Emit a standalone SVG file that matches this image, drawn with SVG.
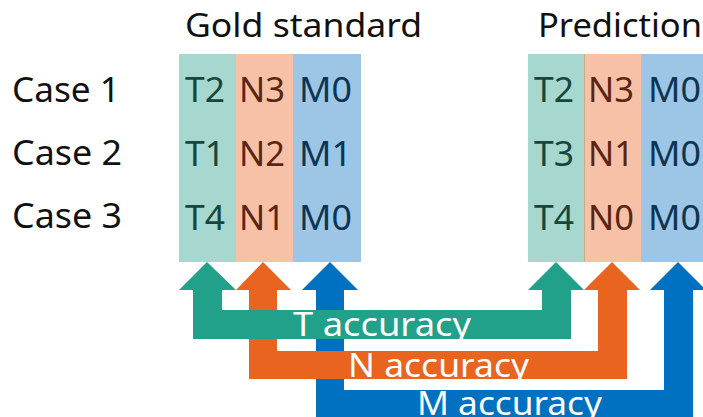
<svg xmlns="http://www.w3.org/2000/svg" width="703" height="417" viewBox="0 0 703 417">
  <style>
    text { font-family: "Noto Sans", "Open Sans", "DejaVu Sans", sans-serif; }
    .head { font-size: 33px; fill: #111; }
    .case { font-size: 34px; fill: #111; }
    .cell { font-size: 35px; }
    .t-col { fill: #A6D8CF; }
    .n-col { fill: #F6C1A6; }
    .m-col { fill: #9DC5E6; }
    .t-txt { fill: #17473A; }
    .n-txt { fill: #5A2612; }
    .m-txt { fill: #0D3552; }
    .acc { font-size: 32px; fill: #fff; }
  </style>

  <!-- column headers -->
  <g id="gold-header"><text class="head" x="185" y="37" textLength="237" lengthAdjust="spacingAndGlyphs">Gold standard</text></g>
  <g id="prediction-header"><text class="head" x="538" y="37" textLength="164" lengthAdjust="spacingAndGlyphs">Prediction</text></g>

  <!-- row labels -->
  <g id="case-labels">
    <text class="case" x="12" y="102" textLength="108" lengthAdjust="spacingAndGlyphs">Case 1</text>
    <text class="case" x="12" y="165" textLength="110" lengthAdjust="spacingAndGlyphs">Case 2</text>
    <text class="case" x="12" y="228" textLength="110" lengthAdjust="spacingAndGlyphs">Case 3</text>
  </g>

  <!-- gold standard table -->
  <g id="gold-T">
    <rect class="t-col" x="179" y="54" width="57" height="208"/>
    <text class="cell t-txt" x="185" y="102" textLength="40" lengthAdjust="spacingAndGlyphs">T2</text>
    <text class="cell t-txt" x="185" y="166" textLength="40" lengthAdjust="spacingAndGlyphs">T1</text>
    <text class="cell t-txt" x="185" y="230" textLength="40" lengthAdjust="spacingAndGlyphs">T4</text>
  </g>
  <g id="gold-N">
    <rect class="n-col" x="236" y="54" width="57" height="208"/>
    <text class="cell n-txt" x="239" y="102" textLength="46" lengthAdjust="spacingAndGlyphs">N3</text>
    <text class="cell n-txt" x="239" y="166" textLength="46" lengthAdjust="spacingAndGlyphs">N2</text>
    <text class="cell n-txt" x="239" y="230" textLength="46" lengthAdjust="spacingAndGlyphs">N1</text>
  </g>
  <g id="gold-M">
    <rect class="m-col" x="293" y="54" width="68" height="208"/>
    <text class="cell m-txt" x="299" y="102" textLength="53" lengthAdjust="spacingAndGlyphs">M0</text>
    <text class="cell m-txt" x="299" y="166" textLength="53" lengthAdjust="spacingAndGlyphs">M1</text>
    <text class="cell m-txt" x="299" y="230" textLength="53" lengthAdjust="spacingAndGlyphs">M0</text>
  </g>

  <!-- prediction table -->
  <g id="pred-T">
    <rect class="t-col" x="528" y="54" width="56" height="208"/>
    <text class="cell t-txt" x="534" y="102" textLength="40" lengthAdjust="spacingAndGlyphs">T2</text>
    <text class="cell t-txt" x="534" y="166" textLength="40" lengthAdjust="spacingAndGlyphs">T3</text>
    <text class="cell t-txt" x="534" y="230" textLength="40" lengthAdjust="spacingAndGlyphs">T4</text>
  </g>
  <g id="pred-N">
    <rect class="n-col" x="584" y="54" width="57" height="208"/>
    <line x1="584.5" y1="54" x2="584.5" y2="262" stroke="#C9A88C" stroke-width="1"/>
    <text class="cell n-txt" x="588" y="102" textLength="46" lengthAdjust="spacingAndGlyphs">N3</text>
    <text class="cell n-txt" x="588" y="166" textLength="46" lengthAdjust="spacingAndGlyphs">N1</text>
    <text class="cell n-txt" x="588" y="230" textLength="46" lengthAdjust="spacingAndGlyphs">N0</text>
  </g>
  <g id="pred-M">
    <rect class="m-col" x="641" y="54" width="62" height="208"/>
    <text class="cell m-txt" x="648" y="102" textLength="53" lengthAdjust="spacingAndGlyphs">M0</text>
    <text class="cell m-txt" x="648" y="166" textLength="53" lengthAdjust="spacingAndGlyphs">M0</text>
    <text class="cell m-txt" x="648" y="230" textLength="53" lengthAdjust="spacingAndGlyphs">M0</text>
  </g>

  <!-- accuracy connectors: each joins a gold column to its prediction column -->
  <g id="connectors">
    <g id="m-accuracy">
      <path fill="#0070C0" d="M330,262 L358,290 L344,290 L344,390 L664,390 L664,290 L650,290 L678,262 L706,290 L693,290 L693,420 L316,420 L316,290 L302,290 Z"/>
      <text class="acc" x="417" y="415" textLength="185" lengthAdjust="spacingAndGlyphs">M accuracy</text>
    </g>
    <g id="n-accuracy">
      <path fill="#E8641F" d="M263,262 L291,290 L277,290 L277,351 L598,351 L598,290 L584,290 L612,262 L640,290 L627,290 L627,379 L249,379 L249,290 L236,290 Z"/>
      <text class="acc" x="348" y="377" textLength="181" lengthAdjust="spacingAndGlyphs">N accuracy</text>
    </g>
    <g id="t-accuracy">
      <path fill="#21A08A" d="M207,262 L236,290 L222,290 L222,310 L542,310 L542,290 L528,290 L556,262 L584,290 L571,290 L571,339 L193,339 L193,290 L179,290 Z"/>
      <text class="acc" x="293" y="336" textLength="178" lengthAdjust="spacingAndGlyphs">T accuracy</text>
    </g>
  </g>
</svg>
